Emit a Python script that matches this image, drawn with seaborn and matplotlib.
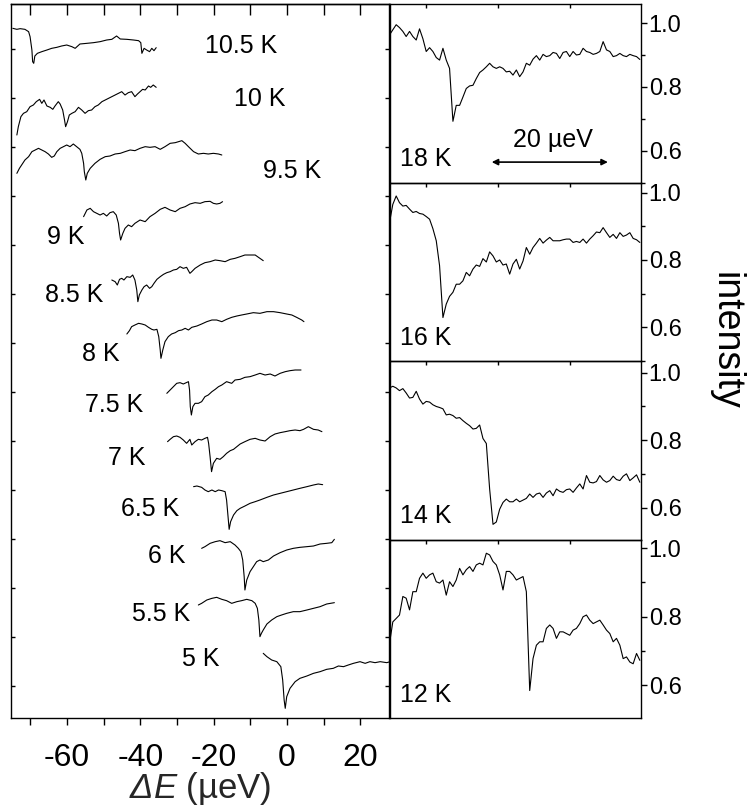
import numpy as np
import pandas as pd
import matplotlib
matplotlib.use("Agg")
import matplotlib.pyplot as plt
from matplotlib.ticker import MultipleLocator, FixedLocator, NullFormatter, FormatStrFormatter
import seaborn as sns

# ---------------- left panel: spectra 5 K ... 10.5 K (energy in ueV, signal in a.u.) -------------
temps_left = ["5 K", "5.5 K", "6 K", "6.5 K", "7 K", "7.5 K", "8 K", "8.5 K", "9 K", "9.5 K", "10 K", "10.5 K"]
offsets_left = [184, 354, 514, 689, 834, 1004, 1179, 1314, 1514, 1699, 1834, 2069]

de_5 = [-6.5, -5.5, -4.2, -2.8, -1.7, -1.2, -0.8, -0.5, -0.1, 0.8, 2.2, 3.5, 5.4, 7.2, 9.0, 10.8, 12.6, 14.0,
        15.4, 16.7, 18.1, 19.9, 21.3, 22.6, 24.0, 25.4, 27.2, 28.1]
sig_5 = [10, 0, -10, -15, -30, -70, -130, -155, -120, -95, -75, -65, -58, -50, -45, -38, -35, -28,
         -30, -25, -20, -15, -20, -15, -18, -15, -18, -15]

de_55 = [-24.2, -23.3, -21.9, -20.5, -19.2, -17.8, -16.5, -15.1, -13.7, -12.4, -11.0, -9.6, -8.7, -8.1, -7.7,
         -7.4, -7.0, -6.5, -5.5, -4.2, -2.8, -1.5, -0.1, 1.7, 3.5, 5.4, 7.2, 9.0, 10.8, 12.9]
sig_55 = [-15, -10, 0, 5, 8, 2, -2, -10, -5, -2, 2, -2, -10, -25, -60,
          -110, -100, -90, -72, -60, -50, -45, -40, -35, -35, -30, -25, -20, -12, -8]

de_6 = [-23.3, -22.4, -21.0, -19.6, -18.3, -16.9, -15.5, -14.2, -13.3, -12.6, -12.1, -11.7, -11.5, -11.0, -10.1,
        -9.2, -8.3, -7.4, -6.5, -5.1, -3.7, -1.9, -0.1, 1.7, 3.5, 5.4, 7.2, 9.0, 10.8, 12.2, 12.9]
sig_6 = [-5, 0, 10, 15, 18, 12, 15, 5, -5, -15, -40, -90, -130, -100, -75,
         -60, -45, -40, -45, -40, -28, -18, -10, -5, -2, 0, 2, 8, 10, 12, 22]

de_65 = [-25.5, -24.6, -23.3, -22.4, -21.5, -20.5, -19.6, -18.7, -17.8, -16.9, -16.5, -16.1, -15.8, -15.4, -14.6,
         -13.7, -12.8, -11.5, -10.1, -8.7, -7.4, -5.5, -3.7, -1.9, -0.1, 1.7, 3.5, 5.4, 7.2, 8.5, 9.7]
sig_65 = [5, 7, 3, -5, -10, -5, -10, -5, -7, -10, -35, -85, -123, -100, -80,
          -67, -60, -53, -45, -40, -35, -27, -20, -15, -10, -5, 0, 5, 10, 13, 11]

de_7 = [-32.6, -31.9, -31.0, -30.1, -29.2, -28.3, -27.4, -26.5, -26.0, -25.1, -24.2, -23.3, -22.4, -21.7, -21.4,
        -21.0, -20.6, -20.1, -19.2, -18.3, -17.4, -16.5, -15.5, -14.6, -13.7, -12.8, -11.5, -10.1, -8.7, -7.4,
        -6.0, -4.6, -3.3, -1.9, -0.5, 0.8, 2.2, 3.5, 4.5, 5.8, 7.2, 8.5, 9.5]
sig_7 = [-5, 2, 10, 12, 8, 0, -10, 2, -15, -5, 2, 0, 5, 8, -10,
         -50, -95, -70, -55, -58, -50, -40, -32, -28, -20, -12, -5, 2, 5, 0,
         -3, 10, 18, 22, 25, 28, 30, 28, 32, 40, 32, 30, 25]

de_75 = [-32.8, -31.9, -31.0, -30.1, -29.2, -28.3, -27.5, -26.9, -26.6, -26.4, -26.1, -25.7, -25.1, -24.2, -23.3,
         -22.4, -21.5, -20.5, -19.6, -18.7, -17.8, -16.5, -15.1, -14.2, -12.8, -11.5, -10.1, -8.7, -7.4, -6.0,
         -4.6, -3.3, -1.9, -0.5, 0.8, 2.2, 3.8]
sig_75 = [-30, -20, -10, 0, 2, -2, 2, 5, -20, -70, -95, -70, -60, -60, -55,
          -40, -35, -25, -18, -10, -5, 5, 0, 10, 12, 18, 20, 25, 30, 25,
          28, 22, 30, 35, 38, 40, 40]

de_8 = [-43.7, -43.0, -42.4, -41.5, -40.5, -39.6, -38.7, -37.8, -36.9, -36.3, -35.5, -35.0, -34.6, -34.4, -33.9,
        -33.3, -32.4, -31.5, -30.5, -29.6, -28.7, -27.8, -26.9, -26.0, -24.6, -23.3, -21.9, -20.5, -19.2, -17.8,
        -16.5, -15.1, -13.7, -12.4, -11.0, -9.2, -7.4, -5.5, -3.7, -1.9, -0.1, 1.3, 2.6, 4.0, 4.6]
sig_8 = [-27, -17, -5, 0, 5, 3, 0, -7, -13, -15, -13, -35, -75, -100, -75,
         -50, -35, -27, -23, -17, -15, -10, -15, -7, -3, 3, 10, 15, 15, 10,
         17, 23, 27, 30, 33, 37, 35, 40, 40, 37, 33, 30, 23, 15, 10]

de_85 = [-47.8, -46.9, -46.3, -45.7, -45.1, -44.5, -43.7, -42.8, -42.1, -41.5, -41.0, -40.7, -40.3, -39.6, -39.0,
         -38.3, -37.5, -36.9, -36.3, -35.5, -34.6, -33.7, -32.8, -31.9, -31.0, -30.1, -29.2, -28.3, -27.4, -26.5,
         -26.0, -25.1, -23.7, -22.4, -21.0, -19.6, -18.3, -16.9, -15.5, -14.2, -12.8, -11.5, -10.1, -8.7, -7.8, -6.5]
sig_85 = [0, -5, -15, 2, 5, 0, 10, 8, 15, 0, -30, -65, -45, -30, -20,
          -15, -25, -20, -10, 2, 10, 17, 22, 25, 30, 32, 40, 35, 38, 20,
          25, 35, 45, 52, 55, 60, 58, 55, 62, 65, 70, 75, 75, 75, 68, 58]

de_9 = [-55.5, -54.6, -53.7, -52.8, -51.9, -51.0, -50.1, -49.2, -48.3, -47.4, -46.6, -46.0, -45.7, -45.4, -44.8,
        -44.2, -43.3, -42.4, -41.5, -40.1, -38.7, -37.4, -36.0, -34.6, -33.3, -31.9, -30.5, -29.2, -27.8, -26.5,
        -25.1, -23.7, -22.4, -21.0, -20.1, -19.2, -18.3, -17.6]
sig_9 = [-10, 10, 15, 5, 0, -5, 0, -8, 2, 5, -5, -30, -60, -80, -60,
         -45, -35, -40, -30, -20, -25, -10, 0, 12, 18, 10, 5, 15, 20, 28,
         32, 30, 35, 36, 30, 28, 30, 35]

de_95 = [-73.7, -73.0, -72.4, -71.5, -70.5, -69.6, -68.7, -67.8, -66.9, -66.0, -65.1, -64.2, -63.5, -62.8, -61.9,
         -61.0, -60.1, -59.2, -58.3, -57.4, -56.5, -56.0, -55.5, -55.3, -54.9, -54.5, -53.7, -52.4, -51.0, -49.6,
         -48.3, -46.9, -45.5, -44.2, -42.8, -41.5, -40.1, -38.7, -37.4, -36.0, -34.6, -33.3, -31.9, -30.5, -28.7,
         -27.8, -26.9, -25.5, -24.2, -22.8, -21.5, -20.1, -18.7, -17.8]
sig_95 = [-65, -50, -40, -25, -15, 0, 5, 10, 5, 0, -7, -17, -13, 0, 10,
          15, 20, 15, 23, 15, 7, -5, -35, -60, -85, -65, -50, -35, -23, -15,
          -13, -7, -5, 0, 5, 3, 10, 15, 13, 15, 7, 15, 25, 27, 33,
          25, 15, 0, -7, -5, -7, -5, -7, -10]

de_10 = [-73.7, -73.3, -72.6, -71.9, -71.0, -70.1, -69.2, -68.4, -67.5, -66.9, -66.3, -65.5, -64.6, -63.9, -63.3,
         -62.4, -61.9, -61.2, -60.7, -60.4, -59.9, -59.4, -58.7, -57.8, -56.9, -56.0, -55.1, -54.2, -53.3, -52.4,
         -51.5, -50.5, -49.6, -48.7, -47.8, -46.9, -46.0, -45.1, -44.2, -43.3, -42.4, -41.5, -40.8, -40.1, -39.4,
         -38.7, -37.8, -37.2, -36.5, -35.7]
sig_10 = [-85, -60, -30, -20, -15, 0, 5, 15, 22, 10, 20, 2, -2, -8, 2,
          15, 8, -10, -40, -60, -45, -25, -20, -15, -2, -10, -20, -12, -10, 0,
          5, 15, 20, 25, 30, 35, 40, 45, 35, 42, 45, 30, 38, 45, 52,
          50, 62, 58, 65, 58]

de_105 = [-74.8, -73.7, -72.8, -71.5, -70.5, -70.1, -69.6, -69.4, -69.1, -68.8, -68.1, -66.9, -65.5, -64.2, -62.8,
          -61.5, -60.1, -58.7, -57.8, -56.5, -54.6, -52.8, -51.0, -49.2, -47.8, -46.5, -45.5, -43.7, -41.9, -40.5,
          -39.9, -39.6, -39.0, -38.3, -37.5, -36.9, -36.3, -35.7]
sig_105 = [0, -3, -1, -3, -10, -25, -65, -100, -105, -83, -75, -70, -65, -60, -57,
           -53, -50, -55, -60, -47, -45, -43, -40, -35, -33, -23, -32, -33, -35, -37,
           -43, -75, -60, -65, -70, -60, -67, -58]

# ---------------- right panels: normalised intensity at 18, 16, 14, 12 K -------------
temps_right = ["18 K", "16 K", "14 K", "12 K"]
de_right = [0.00, 0.57, 1.15, 1.72, 2.30, 2.87, 3.45, 4.02, 4.60, 5.17,
            5.75, 6.32, 6.90, 7.47, 8.05, 8.62, 9.20, 9.77, 10.34, 10.92,
            11.49, 12.07, 12.64, 13.22, 13.79, 14.37, 14.94, 15.52, 16.09, 16.67,
            17.24, 17.82, 18.39, 18.97, 19.54, 20.11, 20.69, 21.26, 21.84, 22.41,
            22.99, 23.56, 24.14, 24.71, 25.29, 25.86, 26.44, 27.01, 27.59, 28.16,
            28.74, 29.31, 29.89, 30.46, 31.03, 31.61, 32.18, 32.76, 33.33, 33.91,
            34.48, 35.06, 35.63, 36.21, 36.78, 37.36, 37.93, 38.51, 39.08, 39.66,
            40.23, 40.80, 41.38, 41.95, 42.53, 43.10]
int_18 = [0.963, 0.979, 0.995, 0.986, 0.974, 0.958, 0.974, 0.958, 0.947, 0.982,
          0.951, 0.911, 0.923, 0.911, 0.892, 0.884, 0.921, 0.884, 0.858, 0.692,
          0.742, 0.742, 0.768, 0.795, 0.803, 0.805, 0.826, 0.845, 0.853, 0.863,
          0.874, 0.863, 0.858, 0.863, 0.858, 0.847, 0.849, 0.837, 0.853, 0.832,
          0.847, 0.874, 0.868, 0.887, 0.898, 0.884, 0.902, 0.895, 0.898, 0.908,
          0.905, 0.889, 0.908, 0.911, 0.895, 0.911, 0.900, 0.902, 0.921, 0.911,
          0.908, 0.902, 0.905, 0.911, 0.942, 0.916, 0.911, 0.895, 0.898, 0.905,
          0.898, 0.895, 0.902, 0.898, 0.895, 0.886]
int_16 = [0.911, 0.965, 0.990, 0.970, 0.960, 0.962, 0.951, 0.941, 0.944, 0.938,
          0.936, 0.929, 0.921, 0.893, 0.857, 0.783, 0.629, 0.669, 0.692, 0.704,
          0.728, 0.728, 0.738, 0.763, 0.753, 0.773, 0.785, 0.781, 0.804, 0.794,
          0.824, 0.812, 0.794, 0.800, 0.785, 0.788, 0.758, 0.788, 0.802, 0.773,
          0.797, 0.837, 0.817, 0.837, 0.850, 0.864, 0.850, 0.859, 0.867, 0.857,
          0.857, 0.857, 0.860, 0.862, 0.862, 0.852, 0.855, 0.852, 0.862, 0.850,
          0.862, 0.872, 0.883, 0.881, 0.896, 0.881, 0.867, 0.876, 0.864, 0.881,
          0.870, 0.874, 0.881, 0.864, 0.860, 0.852]
int_14 = [0.955, 0.960, 0.955, 0.947, 0.953, 0.940, 0.925, 0.927, 0.945, 0.922,
          0.907, 0.915, 0.913, 0.905, 0.900, 0.897, 0.893, 0.875, 0.877, 0.873,
          0.865, 0.867, 0.858, 0.850, 0.843, 0.833, 0.835, 0.845, 0.805, 0.790,
          0.655, 0.550, 0.557, 0.595, 0.615, 0.625, 0.617, 0.617, 0.625, 0.617,
          0.622, 0.627, 0.640, 0.630, 0.640, 0.643, 0.630, 0.643, 0.650, 0.635,
          0.655, 0.648, 0.645, 0.653, 0.655, 0.645, 0.658, 0.670, 0.655, 0.695,
          0.675, 0.673, 0.677, 0.695, 0.682, 0.675, 0.680, 0.693, 0.683, 0.680,
          0.693, 0.700, 0.680, 0.688, 0.697, 0.675]
int_12 = [0.722, 0.785, 0.795, 0.805, 0.859, 0.854, 0.820, 0.873, 0.873, 0.912,
          0.927, 0.912, 0.922, 0.927, 0.902, 0.898, 0.907, 0.863, 0.902, 0.888,
          0.907, 0.941, 0.922, 0.937, 0.946, 0.932, 0.951, 0.956, 0.951, 0.985,
          0.980, 0.961, 0.951, 0.922, 0.878, 0.932, 0.932, 0.922, 0.907, 0.912,
          0.917, 0.873, 0.585, 0.678, 0.717, 0.727, 0.727, 0.766, 0.776, 0.766,
          0.737, 0.756, 0.756, 0.751, 0.746, 0.761, 0.766, 0.780, 0.800, 0.805,
          0.790, 0.780, 0.785, 0.790, 0.776, 0.761, 0.751, 0.727, 0.737, 0.717,
          0.678, 0.683, 0.668, 0.663, 0.693, 0.673]

# ---------------- style -------------
sns.set_theme(style="ticks")
plt.rcParams.update({
    "font.family": ["Liberation Sans", "DejaVu Sans"],
    "axes.unicode_minus": False,
    # italic Delta and E in the energy label
    "mathtext.fontset": "custom",
    "mathtext.rm": "Liberation Sans:italic",
    "mathtext.it": "Liberation Sans:italic",
    "axes.edgecolor": "black",
    "axes.linewidth": 1.0,
    "xtick.color": "black",
    "ytick.color": "black",
    "text.color": "black",
})

W, H = 747, 810
fig = plt.figure(figsize=(W / 100, H / 100), dpi=100)
fig.patch.set_facecolor("white")


def frame(x0, y0, x1, y1):
    return [x0 / W, 1 - y1 / H, (x1 - x0) / W, (y1 - y0) / H]


# ---------------- left waterfall -------------
left_de = [de_5, de_55, de_6, de_65, de_7, de_75, de_8, de_85, de_9, de_95, de_10, de_105]
left_sig = [sig_5, sig_55, sig_6, sig_65, sig_7, sig_75, sig_8, sig_85, sig_9, sig_95, sig_10, sig_105]
parts = []
for temp, de, sig, off in zip(temps_left, left_de, left_sig, offsets_left):
    parts.append(pd.DataFrame({"dE": de, "signal": np.asarray(sig, float) + off, "T": temp}))
df_left = pd.concat(parts, ignore_index=True)

ax = fig.add_axes(frame(11, 4, 389, 718))
sns.lineplot(data=df_left, x="dE", y="signal", units="T", estimator=None, sort=False,
             color="black", lw=0.8, ax=ax, legend=False)
ax.set_xlim(-75.3, 27.8)
ax.set_ylim(0, 2142)
ax.xaxis.set_major_locator(MultipleLocator(20))
ax.xaxis.set_minor_locator(MultipleLocator(10))
ax.yaxis.set_major_locator(MultipleLocator(147, offset=96))
ax.yaxis.set_major_formatter(NullFormatter())
ax.tick_params(axis="x", which="both", direction="out", length=5, width=1.0,
               labelsize=23, pad=13, top=False)
ax.tick_params(axis="y", which="major", direction="in", length=3, width=1.0,
               left=True, right=True, labelleft=False)
ax.set_ylabel("")
ax.set_xlabel(r"$\Delta E$ (µeV)", fontsize=25, labelpad=-2)

top = ax.secondary_xaxis("top")
top.xaxis.set_major_locator(MultipleLocator(20))
top.xaxis.set_minor_locator(MultipleLocator(10))
top.tick_params(axis="x", which="both", direction="in", length=8, width=1.0, labeltop=False)

label_pos_left = [(-23.5, 177), (-34.4, 312), (-32.7, 486), (-37.4, 627), (-43.7, 780), (-47.2, 939),
                  (-50.8, 1092), (-58.1, 1269), (-60.3, 1443), (1.4, 1641), (-7.4, 1857), (-12.6, 2016)]
for temp, (tx, ty) in zip(temps_left, label_pos_left):
    ax.text(tx, ty, temp, fontsize=18, ha="center", va="center")

# ---------------- right stack -------------
right_int = [int_18, int_16, int_14, int_12]
right_ylim = [(0.50, 1.06), (0.50, 1.03), (0.505, 1.035), (0.505, 1.025)]
panel_h = (718 - 4) / 4
for i, (temp, vals) in enumerate(zip(temps_right, right_int)):
    y0 = 4 + panel_h * i
    axr = fig.add_axes(frame(389.5, y0, 641, y0 + panel_h))
    axr.patch.set_alpha(0)
    sns.lineplot(x=de_right, y=vals, estimator=None, sort=False, color="black", lw=0.8, ax=axr)
    axr.set_xlim(0, 43.3)
    axr.set_ylim(*right_ylim[i])
    axr.yaxis.tick_right()
    axr.yaxis.set_major_locator(MultipleLocator(0.2))
    axr.yaxis.set_minor_locator(MultipleLocator(0.1))
    axr.yaxis.set_major_formatter(FormatStrFormatter("%.1f"))
    axr.tick_params(axis="y", which="major", direction="out", length=4, width=1.0,
                    labelsize=17, pad=1.5, left=False, right=True)
    axr.tick_params(axis="y", which="minor", direction="out", length=3, width=1.0,
                    left=False, right=True)
    axr.xaxis.set_major_locator(FixedLocator([6.2, 18.6, 31.0]))
    axr.xaxis.set_major_formatter(NullFormatter())
    axr.tick_params(axis="x", which="major", direction="in", length=3, width=1.0,
                    top=True, bottom=False, labelbottom=False)
    axr.set_xlabel("")
    axr.set_ylabel("")
    axr.text(0.04, 0.13, temp, transform=axr.transAxes, fontsize=18, ha="left", va="center")
    if i == 0:
        axr.annotate("", xy=(37.6, 0.564), xytext=(17.6, 0.564),
                     arrowprops=dict(arrowstyle="<|-|>", lw=1.2, color="black",
                                     mutation_scale=9, shrinkA=0, shrinkB=0))
        axr.text(28.2, 0.634, "20 µeV", fontsize=18, ha="center", va="center")

fig.text(726 / W, 1 - 341 / H, "intensity", rotation=270, fontsize=27, ha="center", va="center")

fig.savefig("out.png", dpi=100, facecolor="white")
